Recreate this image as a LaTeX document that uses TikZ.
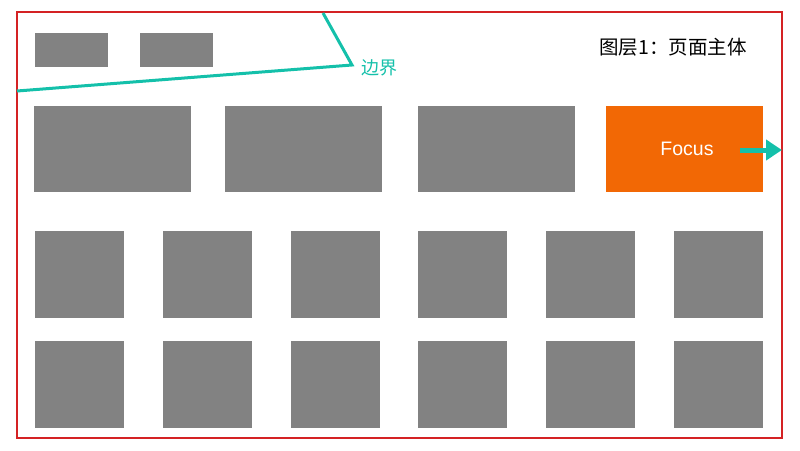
\documentclass[tikz,border=0pt]{standalone}
\usepackage{fontspec}
\setmainfont{Liberation Sans}
\newfontfamily\cjk{Noto Sans CJK SC}
\usetikzlibrary{arrows.meta}
\definecolor{boxgray}{HTML}{828282}
\definecolor{focusorange}{HTML}{F26805}
\definecolor{teal}{HTML}{14C0AA}
\definecolor{framered}{HTML}{D42224}
\tikzset{
  gbox/.style={fill=boxgray, draw=none},
  framebox/.style={draw=framered, line width=2.2pt},
  tealline/.style={draw=teal, line width=3pt, line join=miter},
}
\begin{document}
\begin{tikzpicture}[x=1pt,y=-1pt]
\useasboundingbox (0,0) rectangle (800,450);
% frame
\draw[framebox] (17,12) rectangle (782,438);
% top small boxes
\fill[gbox] (35,33) rectangle (108,67);
\fill[gbox] (140,33) rectangle (213,67);
% row 2
\fill[gbox] (34,106) rectangle (191,192);
\fill[gbox] (225,106) rectangle (382,192);
\fill[gbox] (418,106) rectangle (575,192);
\node[fill=focusorange, minimum width=157pt, minimum height=86pt, inner sep=0pt, text=white, font=\fontsize{19.5}{21}\selectfont] (focus) at (684.5,149) {\hspace*{5pt}Focus};
% rows 3 and 4
\foreach \x in {35,163,291,418,546,674}{
  \fill[gbox] (\x,231) rectangle ++(89,87);
  \fill[gbox] (\x,341) rectangle ++(89,87);
}
% boundary line
\coordinate (b1) at (17,91);
\coordinate (b2) at (352,65);
\coordinate (b3) at (323,13);
\draw[tealline] (b1) -- (b2) -- (b3);
\node[text=teal, font=\cjk\fontsize{18}{20}\selectfont, anchor=west, inner sep=0pt] (bj) at (361,68) {边界};
% arrow
\coordinate (a1) at (740,150);
\coordinate (a2) at (782,150);
\draw[draw=teal, line width=5pt, -{Triangle[length=16pt,width=20pt]}] (a1) -- (a2);
% title
\node[font=\cjk\fontsize{19.5}{21}\selectfont, anchor=center, inner sep=0pt] (title) at (673,47) {图层1：页面主体};
\end{tikzpicture}
\end{document}
